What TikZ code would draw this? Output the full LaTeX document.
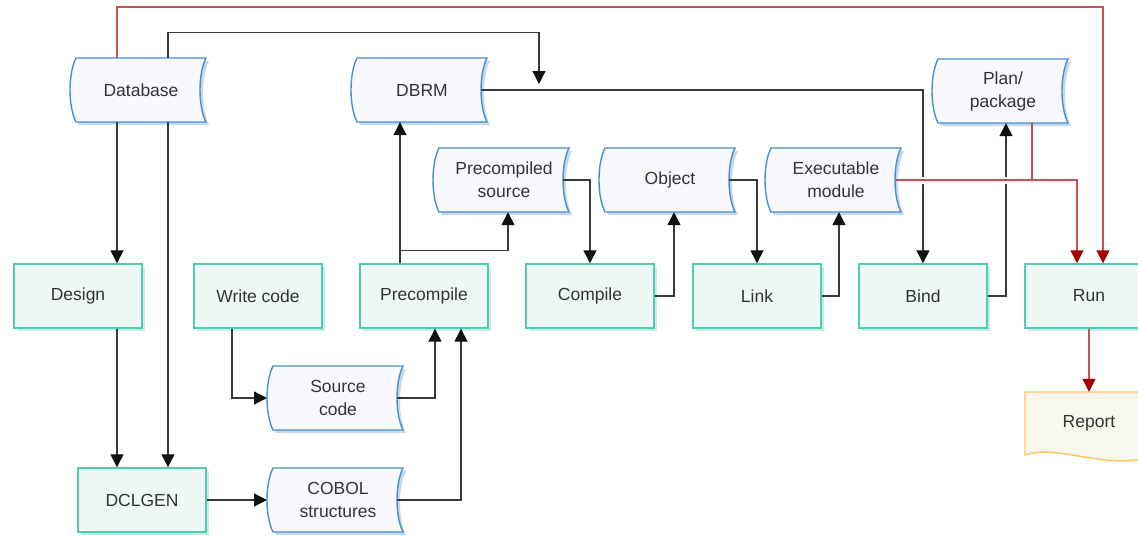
\documentclass[tikz,border=0pt]{standalone}
\usepackage{fontspec}
\setmainfont{Liberation Sans}
\usetikzlibrary{arrows.meta,calc,shadows}

\definecolor{procfill}{HTML}{EEF8F4}
\definecolor{procdraw}{HTML}{4FCDB4}
\definecolor{procshadow}{HTML}{C6EDE4}
\definecolor{datafill}{HTML}{F8F8FF}
\definecolor{datadraw}{HTML}{4A8FC9}
\definecolor{datashadow}{HTML}{C4D9EE}
\definecolor{docfill}{HTML}{F8F7EE}
\definecolor{docdraw}{HTML}{FFC55C}
\definecolor{flowline}{HTML}{383838}
\definecolor{flowtip}{HTML}{111111}
\definecolor{runline}{HTML}{C85050}
\definecolor{runtip}{HTML}{A80000}
\definecolor{labeltext}{HTML}{333333}

\tikzset{
  lbl/.style={font=\fontsize{17.5}{23}\selectfont, text=labeltext, align=center, inner sep=0pt},
  procbox/.style={lbl, draw=procdraw, fill=procfill, line width=1.4pt,
    minimum width=128pt, minimum height=64pt,
    general shadow={fill=procshadow, shadow xshift=3pt, shadow yshift=-3pt}},
  datashape/.style={draw=datadraw, fill=datafill, line width=1.4pt,
    general shadow={fill=datashadow, shadow xshift=3pt, shadow yshift=-3pt}},
  docshape/.style={draw=docdraw, fill=docfill, line width=1.4pt},
  arr/.style={draw=flowline, line width=1.3pt, -{Triangle[width=13pt,length=13pt,color=flowtip]}},
  redarr/.style={draw=runline, line width=1.4pt, -{Triangle[width=13pt,length=13pt,color=runtip]}},
  redline/.style={draw=runline, line width=1.4pt},
  linegap/.style={draw=white, line width=7pt},
}

% stored-data symbol: name, x, y, label
\newcommand\datanode[4]{%
  \begin{scope}[shift={(#2,#3)}]
    \path[datashape] (-65,-32) -- (65,-32)
      .. controls (57,-16) and (57,16) .. (65,32) -- (-65,32)
      .. controls (-73,16) and (-73,-16) .. (-65,-32) -- cycle;
    \node[lbl, minimum width=130pt, minimum height=64pt] (#1) at (0,0) {#4};
    \coordinate (#1-in) at (-71,0);
    \coordinate (#1-out) at (59,0);
  \end{scope}}

\begin{document}
\begin{tikzpicture}[x=1pt,y=-1pt]
\useasboundingbox (0,0) rectangle (1138,536);
\clip (0,0) rectangle (1138,536);

% data stores
\datanode{db}{141}{90}{Database}
\datanode{dbrm}{422}{90}{DBRM}
\datanode{plan}{1003}{91}{Plan/\\package}
\datanode{pcs}{504}{180}{Precompiled\\source}
\datanode{object}{670}{180}{Object}
\datanode{exec}{836}{180}{Executable\\module}
\datanode{src}{338}{398}{Source\\code}
\datanode{cobol}{338}{500}{COBOL\\structures}

% process steps
\node[procbox] (design) at (78,296) {Design};
\node[procbox] (write) at (258,296) {Write code};
\node[procbox] (precompile) at (424,296) {Precompile};
\node[procbox] (compile) at (590,296) {Compile};
\node[procbox] (link) at (757,296) {Link};
\node[procbox] (bind) at (923,296) {Bind};
\node[procbox] (run) at (1089,296) {Run};
\node[procbox] (dclgen) at (142,500) {DCLGEN};

% report document
\begin{scope}[shift={(1089,423)}]
  \path[docshape] (-64,-31) -- (64,-31) -- (64,32)
    .. controls (24,50) and (-32,20) .. (-64,32) -- cycle;
  \node[lbl, minimum width=128pt, minimum height=62pt] (report) at (0,0) {Report};
\end{scope}

% helper points
\coordinate (dbL) at ($(db.south)+(-24,0)$);
\coordinate (dbR) at ($(db.south)+(27,0)$);
\coordinate (pcL) at ($(precompile.north)+(-24,0)$);
\coordinate (planR) at ($(plan.south)+(29,0)$);
\coordinate (dbrm-drop) at (539,84);

% black flows
\draw[arr] ($(db.north)+(27,0)$) -- ++(0,-25) -| (dbrm-drop);
\draw[arr] (dbL) -- (dbL |- design.north);
\draw[arr] (dbR) -- (dbR |- dclgen.north);
\draw[arr] (design.south -| dbL) -- (dbL |- dclgen.north);
\draw[arr] (dbrm-out) -| (bind.north);
\draw[arr] (pcL) -- (pcL |- dbrm.south);
\draw[arr] ($(pcL)+(0,-13)$) -| ($(pcs.south)+(4,0)$);
\draw[arr] (pcs-out) -| (compile.north);
\draw[arr] (compile.east) -| ($(object.south)+(4,0)$);
\draw[arr] (object-out) -| (link.north);
\draw[arr] (link.east) -| ($(exec.south)+(3,0)$);
\draw[arr] (bind.east) -| ($(plan.south)+(3,0)$);
\draw[arr] ($(write.south)+(-26,0)$) |- (src-in);
\draw[arr] (src-out) -| ($(precompile.south)+(11,0)$);
\draw[arr] (cobol-out) -| ($(precompile.south)+(37,0)$);
\draw[arr] (dclgen.east) -- (cobol-in);

% red flows, with a break in the lines they cross
\draw[linegap] ($(exec-out)+(14,0)$) -- ($(exec-out -| run.north)+(-16,0)$);
\draw[redarr] ($(db.north)+(-24,0)$) -- ++(0,-51) -| ($(run.north)+(14,0)$);
\draw[redarr] (exec-out) -| ($(run.north)+(-12,0)$);
\draw[redline] (planR) -- (planR |- exec-out);
\draw[redarr] (run.south) -- (report.north);
\end{tikzpicture}
\end{document}
